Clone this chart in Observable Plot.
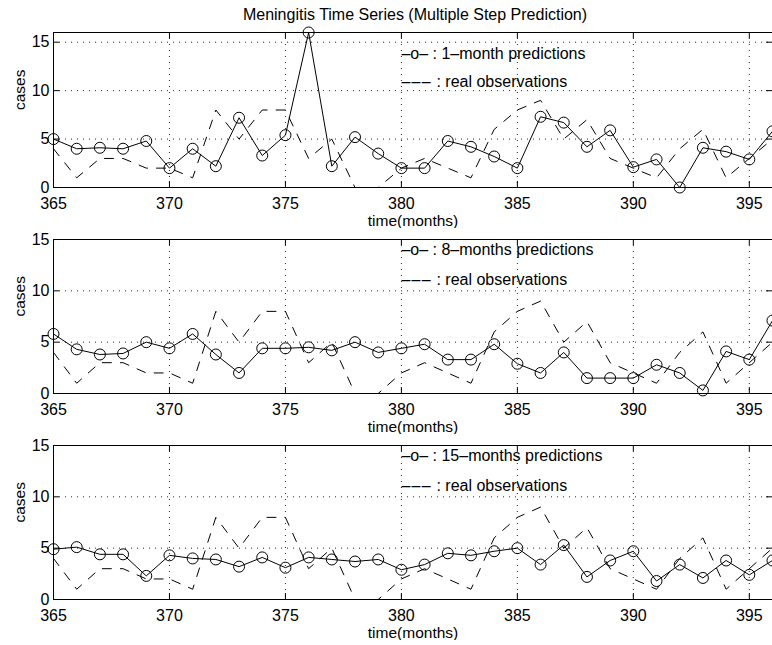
<!DOCTYPE html>
<html><head><meta charset="utf-8">
<script src="https://cdn.jsdelivr.net/npm/d3@7"></script>
<script src="https://cdn.jsdelivr.net/npm/@observablehq/plot@0.6"></script>
<style>
body{margin:0;background:#fff;}
#chart{position:relative;width:772px;height:645px;background:#fff;}
#chart svg{display:block;}
</style></head><body><div id="chart"></div>
<script>
// ---- data ----
const months = [365,366,367,368,369,370,371,372,373,374,375,376,377,378,379,380,381,382,383,384,385,386,387,388,389,390,391,392,393,394,395,396];
const realObs = [4,1,3,3,2,2,1,8,5,8,8,3,5,0,0,2,3,2,1,6,8,9,5,7,3,2,1,4,6,1,3,5];
const pred1  = [5.0,4.0,4.1,4.0,4.8,2.0,4.0,2.2,7.2,3.3,5.4,16.0,2.2,5.2,3.5,2.0,2.0,4.8,4.2,3.2,2.0,7.3,6.7,4.2,5.9,2.1,2.9,0.0,4.1,3.7,2.9,5.8];
const pred8  = [5.8,4.3,3.8,3.9,5.0,4.4,5.8,3.8,2.0,4.4,4.4,4.5,4.2,5.0,4.0,4.4,4.8,3.3,3.3,4.8,2.9,2.0,4.0,1.5,1.5,1.5,2.8,2.0,0.3,4.1,3.3,7.1];
const pred15 = [4.9,5.1,4.4,4.4,2.3,4.3,4.0,3.9,3.2,4.1,3.1,4.1,3.9,3.7,3.9,2.9,3.4,4.5,4.3,4.7,5.0,3.4,5.3,2.2,3.8,4.7,1.8,3.4,2.1,3.8,2.4,3.8];
const xTicks = [365,370,375,380,385,390,395];
const yTicks = [0,5,10,15];
const xDomain = [365,396];
const yMaxes = [16,15,15];
const title = "Meningitis Time Series (Multiple Step Prediction)";
const predLabels = ["–o– : 1–month predictions","–o– : 8–months predictions","–o– : 15–months predictions"];
const obsLabel = "––– : real observations";
const xLabel = "time(months)";
const yLabel = "cases";
const legendX = 380;

// ---- layout ----
const FONT = '"Liberation Sans", Arial, Helvetica, sans-serif';
const W = 772, ML = 53, MR = 0;
const layouts = [
  {height: 228, mt: 32, mb: 41, leg: [26.3, 54.7]},
  {height: 206, mt: 11, mb: 41, leg: [15.3, 45.3]},
  {height: 206, mt: 11, mb: 41, leg: [15, 45]}
];
const preds = [pred1, pred8, pred15];
const chart = document.getElementById("chart");

preds.forEach((p, k) => {
  const L = layouts[k];
  const ih = L.height - L.mt - L.mb;
  const iw = W - ML - MR;
  const rows = months.map((m, i) => ({month: m, real: realObs[i], pred: p[i]}));
  const grid = {stroke: "#000", strokeWidth: 1, strokeDasharray: "1,5", strokeOpacity: 0.85};
  const marks = [
    Plot.ruleX(xTicks.filter(d => d > xDomain[0]), {x: d => d, ...grid}),
    Plot.ruleY(yTicks.filter(d => d > 0), {y: d => d, ...grid}),
    Plot.tickX(xTicks, {x: d => d, insetTop: ih - 6, stroke: "#000"}),
    Plot.tickX(xTicks, {x: d => d, insetBottom: ih - 6, stroke: "#000"}),
    Plot.tickY(yTicks, {y: d => d, insetRight: iw - 6, stroke: "#000"}),
    Plot.tickY(yTicks, {y: d => d, insetLeft: iw - 6, stroke: "#000"}),
    Plot.line(rows, {x: "month", y: "real", stroke: "#000", strokeWidth: 1, strokeDasharray: "9,9"}),
    Plot.line(rows, {x: "month", y: "pred", stroke: "#000", strokeWidth: 1}),
    Plot.dot(rows, {x: "month", y: "pred", r: 5.5, stroke: "#000", fill: "none", strokeWidth: 1}),
    Plot.frame({stroke: "#000", strokeWidth: 1}),
    Plot.text([predLabels[k]], {x: () => legendX, frameAnchor: "top", dy: L.leg[0], textAnchor: "start", lineAnchor: "bottom", fontSize: 16}),
    Plot.text([obsLabel], {x: () => legendX, frameAnchor: "top", dy: L.leg[1], textAnchor: "start", lineAnchor: "bottom", fontSize: 16}),
    Plot.text([xLabel], {frameAnchor: "bottom", dy: 38, lineAnchor: "bottom", fontSize: 15.5}),
    Plot.text([yLabel], {frameAnchor: "left", dx: -29, rotate: -90, lineAnchor: "bottom", fontSize: 15.5})
  ];
  if (k === 0) {
    marks.push(Plot.text([title], {frameAnchor: "top", dy: -12.7, dx: 2, lineAnchor: "bottom", fontSize: 16}));
  }
  const svg = Plot.plot({
    width: W, height: L.height,
    marginLeft: ML, marginRight: MR, marginTop: L.mt, marginBottom: L.mb,
    style: {fontFamily: FONT, fontSize: "16px", background: "#fff", color: "#000", overflow: "hidden"},
    x: {domain: xDomain, ticks: xTicks, tickSize: 0, tickPadding: 10, label: null, tickFormat: d => String(d)},
    y: {domain: [0, yMaxes[k]], ticks: yTicks, tickSize: 0, tickPadding: 4, label: null},
    marks
  });
  // separate the three en dashes of the "real observations" legend glyph
  svg.querySelectorAll("text").forEach(t => {
    const s = t.textContent;
    if (s === obsLabel && t.children.length === 0) {
      const NS = "http://www.w3.org/2000/svg";
      t.textContent = "";
      const a = document.createElementNS(NS, "tspan");
      a.setAttribute("letter-spacing", "1.3px");
      a.textContent = s.slice(0, 3);
      const b = document.createElementNS(NS, "tspan");
      b.textContent = s.slice(3);
      t.appendChild(a); t.appendChild(b);
    }
  });
  chart.appendChild(svg);
});
</script>
</body></html>
